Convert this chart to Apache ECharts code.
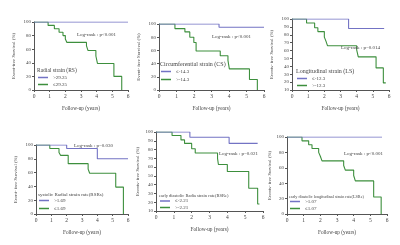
<!DOCTYPE html>
<html>
<head>
<meta charset="utf-8">
<script src="https://cdn.jsdelivr.net/npm/echarts@6/dist/echarts.min.js"></script>
<style>
  html, body { margin: 0; padding: 0; background: #fff; }
  #chart { width: 400px; height: 245px; }
</style>
</head>
<body>
<div id="chart"></div>
<script>
// survival curves (time in years, event-free survival %)
const rsHighT = [0, 6];
const rsHighS = [100, 100];
const rsLowT = [0, 0.9, 1.3, 1.6, 1.85, 2.0, 2.1, 3.35, 3.45, 3.95, 4.05, 5.1, 5.6];
const rsLowS = [100, 95, 90, 85, 80, 75, 70, 65, 58, 50, 39, 20, 0];

const csLowT = [0, 3.43, 6];
const csLowS = [100, 95, 95];
const csHighT = [0, 0.91, 1.48, 1.76, 1.99, 2.12, 3.5, 3.94, 4.02, 5.17, 5.62];
const csHighS = [100, 93, 88, 80, 72, 59, 52, 45, 32, 16, 0];

const lsLowT = [0, 3.5, 5.7];
const lsLowS = [100, 88, 88];
const lsHighT = [0, 0.9, 1.4, 1.6, 2.0, 2.1, 2.2, 4.0, 4.1, 5.2, 5.65, 5.8];
const lsHighS = [100, 95, 89, 84, 77, 72, 66, 61, 52, 38, 19, 19];

const rsrsHighT = [0, 2.0, 4.0, 6];
const rsrsHighS = [100, 95, 80, 80];
const rsrsLowT = [0, 0.9, 1.5, 1.6, 2.1, 3.4, 3.5, 5.2, 5.7];
const rsrsLowS = [100, 95, 89, 85, 73, 65, 59, 39, 0];

const rsreLowT = [0, 1.9, 4.1, 5.7];
const rsreLowS = [100, 94, 87, 87];
const rsreHighT = [0, 0.9, 1.4, 1.6, 2.0, 2.2, 3.45, 3.5, 4.0, 5.2, 5.7, 5.8];
const rsreHighS = [100, 96, 91, 87, 81, 76, 70, 63, 55, 36, 18, 18];

const lsreHighT = [0, 5.7];
const lsreHighS = [100, 100];
const lsreLowT = [0, 0.9, 1.3, 1.5, 1.9, 2.0, 2.1, 3.4, 3.5, 4.0, 4.1, 5.2, 5.65];
const lsreLowS = [100, 95, 90, 85, 80, 75, 69, 63, 57, 50, 43, 22, 0];

const legendTitles = ["Radial strain (RS)", "Circumferential strain (CS)", "Longitudinal strain (LS)",
  "systolic Radial strain rate(RSRs)", "early diastolic Radia strain rate(RSRe)",
  "early diastolic longitudinal strain rate(LSRe)"];
const logRanks = ["Log-rank : p<0.001", "Log-rank : p<0.001", "Log-rank : p=0.014",
  "Log-rank : p=0.030", "Log-rank : p=0.021", "Log-rank : p<0.001"];
const yNames = ["Event-free Survival (%)", "Event- free Survival (%)", "Events- free Survival (%)",
  "Event- free Survival (%)", "Events- free Survival (%)", "Events- free Survival (%)"];
const groupNames = [
  [">29.25", "≤29.25"], ["≤-14.3", ">-14.3"], ["≤-12.3", ">-12.3"],
  [">1.69", "≤1.69"], ["≤-2.21", ">-2.21"], [">1.07", "≤1.07"]
];
const curves = [
  [[rsHighT, rsHighS], [rsLowT, rsLowS]],
  [[csLowT, csLowS], [csHighT, csHighS]],
  [[lsLowT, lsLowS], [lsHighT, lsHighS]],
  [[rsrsHighT, rsrsHighS], [rsrsLowT, rsrsLowS]],
  [[rsreLowT, rsreLowS], [rsreHighT, rsreHighS]],
  [[lsreHighT, lsreHighS], [lsreLowT, lsreLowS]]
];
const yMins = [0, 0, 10, 0, 10, 0];
const yStep = [20, 20, 10, 20, 10, 20];

// layout of each panel: grid [left, top, w, h], log-rank pos, legend heading pos + size, legend top, gap
const panels = [
  { grid: [34, 22, 94, 68], gap: 18, lr: [77, 32], lg: [37, 68], fs: 5.5, lt: 75, ig: 2 },
  { grid: [159, 24, 105, 66], gap: 18, lr: [212, 34], lg: [160, 61], fs: 6, lt: 69, ig: 3 },
  { grid: [292, 19, 97, 71], gap: 18, lr: [341, 45], lg: [296, 68], fs: 6, lt: 76, ig: 2 },
  { grid: [36, 145, 92, 69], gap: 18, lr: [74, 143], lg: [38, 192], fs: 5, lt: 198, ig: 3 },
  { grid: [156, 132, 107, 79], gap: 16, lr: [219, 151], lg: [159, 193], fs: 4.5, lt: 198.5, ig: 1.5 },
  { grid: [287, 137, 100, 77], gap: 14, lr: [344, 151], lg: [289, 195], fs: 4.2, lt: 199, ig: 2 }
];

const blue = "#7373c4";
const green = "#3d8f3d";
const txt = "#444";
const font = "Liberation Serif";

const grids = [], xAxes = [], yAxes = [], series = [], titles = [], legends = [];

panels.forEach((p, i) => {
  grids.push({ left: p.grid[0], top: p.grid[1], width: p.grid[2], height: p.grid[3] });
  xAxes.push({
    gridIndex: i, type: "value", min: 0, max: 6, interval: 1,
    name: "Follow-up (years)", nameLocation: "middle", nameGap: 16,
    nameTextStyle: { fontFamily: font, fontSize: 5.3, color: txt },
    axisLine: { lineStyle: { color: "#555", width: 1 } },
    axisTick: { show: true, length: 2, lineStyle: { color: "#555" } },
    axisLabel: { fontFamily: font, fontSize: 5.5, color: txt, margin: 4 },
    splitLine: { show: false }
  });
  yAxes.push({
    gridIndex: i, type: "value", min: yMins[i], max: 100, interval: yStep[i],
    name: yNames[i], nameLocation: "middle", nameGap: p.gap, nameRotate: 90,
    nameTextStyle: { fontFamily: font, fontSize: 4.8, color: txt },
    axisLine: { show: true, lineStyle: { color: "#555", width: 1 } },
    axisTick: { show: true, length: 2, lineStyle: { color: "#555" } },
    axisLabel: { fontFamily: font, fontSize: 5, color: txt, margin: 3 },
    splitLine: { show: false }
  });
  curves[i].forEach((c, k) => {
    series.push({
      name: groupNames[i][k], type: "line", step: "end",
      xAxisIndex: i, yAxisIndex: i, showSymbol: false, animation: false,
      data: c[0].map((t, j) => [t, c[1][j]]),
      lineStyle: { color: k === 0 ? blue : green, width: 1.1 },
      itemStyle: { color: k === 0 ? blue : green },
      z: k === 0 ? 3 : 2
    });
  });
  titles.push({
    text: logRanks[i], left: p.lr[0], top: p.lr[1], padding: 0,
    textStyle: { fontFamily: font, fontSize: 5, fontWeight: "normal", color: txt }
  });
  titles.push({
    text: legendTitles[i], left: p.lg[0], top: p.lg[1], padding: 0,
    textStyle: { fontFamily: font, fontSize: p.fs, fontWeight: "normal", color: txt }
  });
  legends.push({
    data: groupNames[i], orient: "vertical", left: p.lg[0] + 1, top: p.lt,
    itemWidth: 10, itemHeight: 1.5, itemGap: p.ig, icon: "rect", padding: 0,
    textStyle: { fontFamily: font, fontSize: 5, color: txt }, selectedMode: false
  });
});

const chart = echarts.init(document.getElementById("chart"), null, { renderer: "canvas" });
chart.setOption({
  backgroundColor: "#fff",
  animation: false,
  title: titles,
  legend: legends,
  grid: grids,
  xAxis: xAxes,
  yAxis: yAxes,
  series: series
});
</script>
</body>
</html>
